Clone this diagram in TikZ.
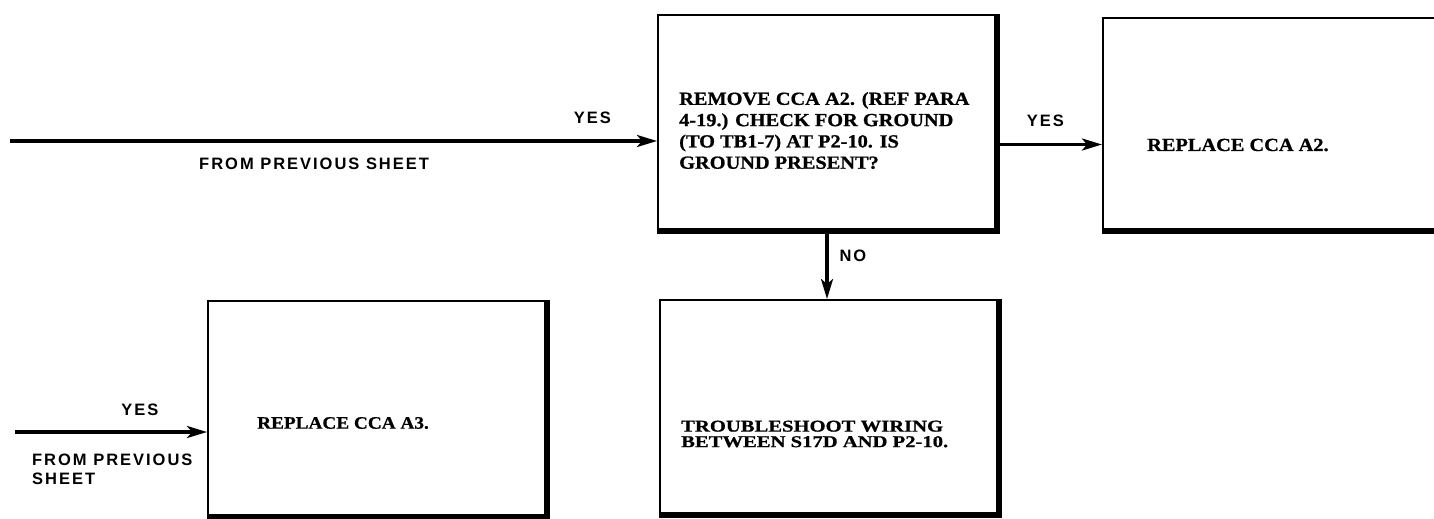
\documentclass[tikz,border=0pt]{standalone}
\usepackage{fontspec}
\usetikzlibrary{arrows.meta,positioning}

\newfontfamily\boxfont{Liberation Serif}[FakeStretch=1.1, BoldFeatures={FakeBold=0.8}]
\newfontfamily\wideboxfont{Liberation Serif}[FakeStretch=1.25, BoldFeatures={FakeBold=0.8}]
\newfontfamily\lblfont{Liberation Sans}[LetterSpace=12]

\tikzset{
  stepbox/.style={draw, line width=2pt, minimum width=338pt, minimum height=215pt, inner sep=0pt},
  heavy/.style={line width=6.5pt},
  boxtext/.style n args={2}{inner sep=0pt, align=left, anchor=west,
    font=\boxfont\bfseries\fontsize{#1}{#2}\selectfont},
  flow/.style={line width=3.2pt, -{Stealth[length=20pt,width=12pt,inset=5pt]}},
  lbl/.style={inner sep=0pt, font=\lblfont\bfseries\fontsize{16.5}{18.5}\selectfont},
}

\begin{document}
\begin{tikzpicture}[x=1pt,y=-1pt]
	\useasboundingbox (0,0) rectangle (1434,519);
	
	% boxes
	\node[stepbox] (check) at (827,122.5) {};
	\node[stepbox, minimum width=357pt, minimum height=212pt] (repA2) at (1281.5,124) {};
	\node[stepbox, minimum height=214pt] (wiring) at (829,407) {};
	\node[stepbox] (repA3) at (377,408.5) {};
	
	\foreach \b in {check,repA2,wiring,repA3}
	\draw[heavy] (\b.north east) -- (\b.south east) -- (\b.south west);
	
	\node[boxtext={18.5}{21.3}] (checktxt) at ([xshift=22pt,yshift=-8pt]check.west)
	{REMOVE CCA A2. (REF PARA\\4-19.) CHECK FOR GROUND\\(TO TB1-7) AT P2-10. IS\\GROUND PRESENT?};
	\node[boxtext={18.5}{21}] (repA2txt) at ([xshift=45pt,yshift=-21pt]repA2.west) {REPLACE CCA A2.};
	\node[boxtext={16.5}{15.5}, font=\wideboxfont\bfseries\fontsize{16.5}{15.5}\selectfont] (wiringtxt)
	at ([xshift=22pt,yshift=-27pt]wiring.west) {TROUBLESHOOT WIRING\\BETWEEN S17D AND P2-10.};
	\node[boxtext={17.5}{21}] (repA3txt) at ([xshift=50pt,yshift=-14.5pt]repA3.west) {REPLACE CCA A3.};
	
	% connectors
	\coordinate (prev1) at (10,141);
	\draw[flow] (prev1) -- (check.west |- prev1)
	node[lbl, pos=0.9, above=16pt] (yes1) {YES}
	node[lbl, pos=0.47, below=15pt] (from1) {FROM PREVIOUS SHEET};
	
	\draw[flow] ([yshift=-22pt]check.east) -- ([yshift=-22pt]check.east -| repA2.west)
	node[lbl, pos=0.46, above=16pt] (yes2) {YES};
	
	\draw[flow] (check.south) -- (check.south |- wiring.north)
	node[lbl, pos=0.36, right=11pt] (no1) {NO};
	
	\coordinate (prev2) at (15,432);
	\draw[flow] (prev2) -- (repA3.west |- prev2)
	node[lbl, pos=0.65, above=15pt] (yes3) {YES};
	\node[lbl, align=left, below right=22pt and 17pt of prev2] (from2) {FROM PREVIOUS\\SHEET};
\end{tikzpicture}
\end{document}
